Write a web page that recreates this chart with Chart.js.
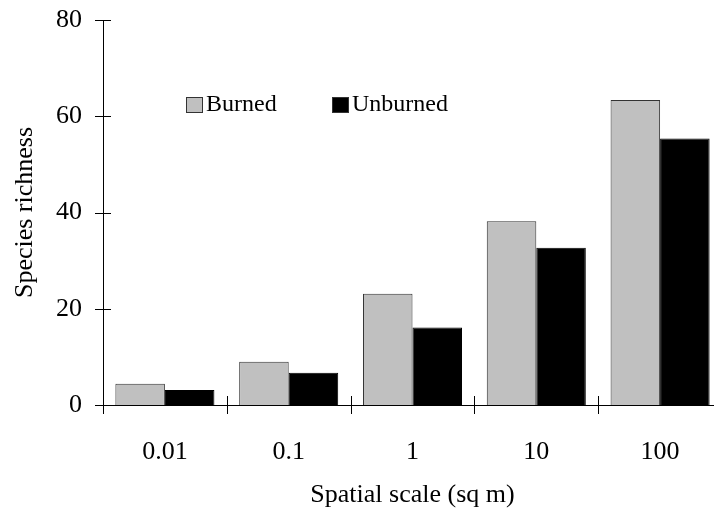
<!DOCTYPE html>
<html>
<head>
<meta charset="utf-8">
<script src="https://cdn.jsdelivr.net/npm/chart.js@4"></script>
<style>
html,body{margin:0;padding:0;background:#fff;overflow:hidden;}
</style>
</head>
<body>
<canvas id="chart" width="730" height="516"></canvas>
<script>
const SCALES = ["0.01", "0.1", "1", "10", "100"];
const BURNED = [4.4, 9.0, 23.1, 38.2, 63.4];
const UNBURNED = [3.1, 6.7, 16.1, 32.7, 55.4];
const Y_TICKS = [0, 20, 40, 60, 80];

const FONT = "'Liberation Serif', 'Times New Roman', serif";

// ticks that cross the axis lines, like the original
const crossTicks = {
  id: "crossTicks",
  afterDraw(chart){
    const {ctx, scales:{x, y}} = chart;
    ctx.save();
    ctx.strokeStyle = "#000";
    ctx.lineWidth = 1;
    ctx.beginPath();
    Y_TICKS.forEach(v=>{
      const py = Math.round(y.getPixelForValue(v)) + 0.5;
      ctx.moveTo(x.left - 8, py);
      ctx.lineTo(x.left + 8, py);
    });
    const w = (x.right - x.left) / SCALES.length;
    for(let i=0;i<=SCALES.length;i++){
      const px = Math.round(x.left + i*w) + 0.5;
      ctx.moveTo(px, y.bottom - 9);
      ctx.lineTo(px, y.bottom + 9);
    }
    ctx.stroke();
    ctx.restore();
  }
};

// legend drawn inside the plot, top-left
const innerLegend = {
  id: "innerLegend",
  afterDraw(chart){
    const {ctx, chartArea} = chart;
    const spots = [83, 229];
    ctx.save();
    ctx.font = "24px " + FONT;
    ctx.textBaseline = "middle";
    chart.data.datasets.forEach((ds,i)=>{
      const x0 = chartArea.left + spots[i];
      const y0 = 97;
      ctx.fillStyle = ds.backgroundColor;
      ctx.fillRect(x0, y0, 16, 15);
      ctx.strokeStyle = "#333";
      ctx.lineWidth = 1;
      ctx.strokeRect(x0 + 0.5, y0 + 0.5, 16, 15);
      ctx.fillStyle = "#000";
      ctx.fillText(ds.label, x0 + 20, y0 + 8);
    });
    ctx.restore();
  }
};

new Chart(document.getElementById("chart"), {
  type: "bar",
  data: {
    labels: SCALES,
    datasets: [
      { label:"Burned", data: BURNED, backgroundColor:"#c0c0c0", borderColor:"#333", borderWidth:1 },
      { label:"Unburned", data: UNBURNED, backgroundColor:"#000", borderColor:"#000", borderWidth:1 }
    ]
  },
  options: {
    responsive:false,
    animation:false,
    layout:{ padding:{ top:20, right:8, bottom:0, left:0 } },
    plugins:{ legend:{ display:false }, tooltip:{ enabled:false } },
    datasets:{ bar:{ categoryPercentage:0.8, barPercentage:1.0 } },
    scales:{
      x:{
        grid:{ display:false, drawTicks:false },
        border:{ display:true, color:"#000", width:1 },
        ticks:{ color:"#000", padding:32, font:{ family:FONT, size:26 } },
        title:{ display:true, text:"Spatial scale (sq m)", color:"#000", padding:{ top:0, bottom:5 }, font:{ family:FONT, size:26 } },
        afterFit(s){ s.height = 111; s.paddingLeft = 0; s.paddingRight = 0; }
      },
      y:{
        min:0, max:80,
        grid:{ display:false, drawTicks:false },
        border:{ display:true, color:"#000", width:1 },
        afterBuildTicks(s){ s.ticks = Y_TICKS.map(v=>({ value:v })); },
        ticks:{ color:"#000", padding:21, font:{ family:FONT, size:26 } },
        title:{ display:true, text:"Species richness", color:"#000", padding:{ top:10, bottom:0 }, font:{ family:FONT, size:26 } },
        afterFit(s){ s.width = 103; s.paddingTop = 0; s.paddingBottom = 0; }
      }
    }
  },
  plugins:[crossTicks, innerLegend]
});
</script>
</body>
</html>
